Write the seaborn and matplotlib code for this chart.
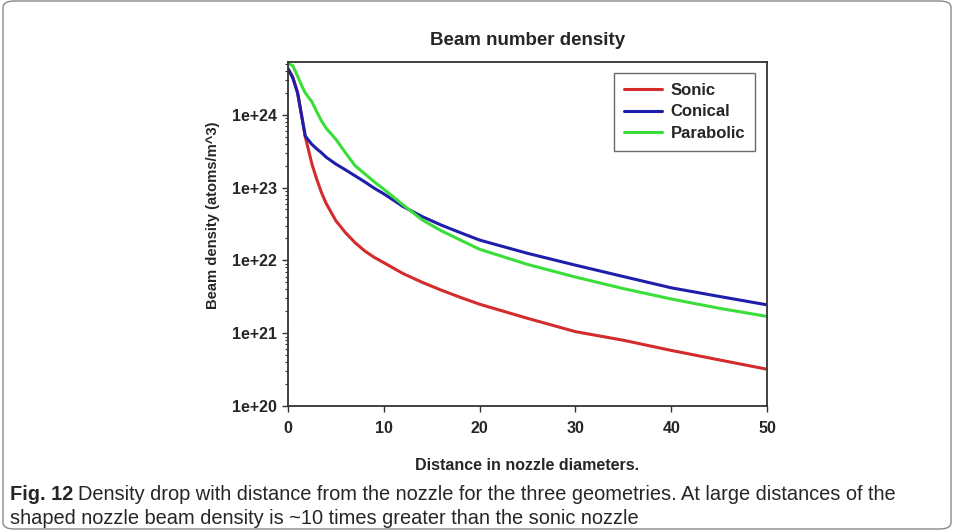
import matplotlib
matplotlib.use("Agg")
import matplotlib.pyplot as plt
import seaborn as sns
import pandas as pd
import numpy as np
from matplotlib.patches import FancyBboxPatch
from matplotlib.ticker import LogLocator, NullFormatter

distance = [0, 0.5, 1, 1.5, 1.8, 2.5, 3, 3.5, 4, 5, 6, 7, 8, 9, 10, 12, 14, 16, 18, 20, 25, 30, 35, 40, 45, 50]
sonic = [4.3e24, 3.3e24, 2.0e24, 8.5e23, 5.0e23, 2.1e23, 1.3e23, 8.5e22, 6.0e22, 3.5e22, 2.4e22, 1.75e22,
         1.35e22, 1.1e22, 9.3e21, 6.6e21, 5e21, 3.9e21, 3.1e21, 2.5e21, 1.6e21, 1.05e21, 8e20, 5.8e20,
         4.3e20, 3.2e20]
conical = [4.3e24, 3.2e24, 2.0e24, 8.5e23, 5.1e23, 3.9e23, 3.4e23, 3.0e23, 2.6e23, 2.1e23, 1.75e23, 1.45e23,
           1.2e23, 9.8e22, 8.2e22, 5.5e22, 4.0e22, 3.05e22, 2.4e22, 1.9e22, 1.25e22, 8.6e21, 6e21, 4.2e21,
           3.2e21, 2.45e21]
parabolic = [5.1e24, 4.7e24, 3.4e24, 2.4e24, 2.0e24, 1.5e24, 1.1e24, 8.2e23, 6.5e23, 4.6e23, 3.0e23, 2.0e23,
             1.55e23, 1.2e23, 9.5e22, 5.8e22, 3.6e22, 2.55e22, 1.9e22, 1.42e22, 8.8e21, 5.9e21, 4.1e21,
             2.95e21, 2.2e21, 1.7e21]
series_names = ["Sonic", "Conical", "Parabolic"]
colors = {"Sonic": "#d42c2c", "Conical": "#1e1eaa", "Parabolic": "#3ade3a"}

x_ticks = [0, 10, 20, 30, 40, 50]
y_ticks = [1e20, 1e21, 1e22, 1e23, 1e24]
y_tick_labels = ["1e+20", "1e+21", "1e+22", "1e+23", "1e+24"]

df = pd.concat([
    pd.DataFrame({"x": distance, "y": vals, "series": name})
    for name, vals in zip(series_names, [sonic, conical, parabolic])
])

sns.set_style("ticks")
plt.rcParams['font.family'] = ['Liberation Sans', 'DejaVu Sans']

fig = plt.figure(figsize=(9.56, 5.32), dpi=100)
ax = fig.add_axes([288/956, 1-406/532, (767-288)/956, (406-62)/532])

sns.lineplot(data=df, x="x", y="y", hue="series", hue_order=series_names,
             palette=colors, linewidth=2.2, ax=ax, legend=True)

ax.set_yscale("log")
ax.set_xlim(0, 50)
ax.set_ylim(1e20, 5.3e24)
ax.set_xticks(x_ticks)
ax.set_xticklabels([str(t) for t in x_ticks], fontweight="bold", fontsize=11.5)
ax.set_yticks(y_ticks)
ax.set_yticklabels(y_tick_labels, fontweight="bold", fontsize=11.5)
ax.yaxis.set_minor_locator(LogLocator(base=10, subs=np.arange(2, 10)))
ax.yaxis.set_minor_formatter(NullFormatter())
ax.tick_params(axis="x", which="major", direction="out", length=4, width=1, color="#333333", pad=7)
ax.tick_params(axis="y", which="major", direction="out", length=4, width=1, color="#333333", pad=4)
ax.tick_params(axis="y", which="minor", direction="out", length=2, width=0.8, color="#333333")
for sp in ax.spines.values():
    sp.set_visible(True)
    sp.set_color("#333333")
    sp.set_linewidth(1.3)

ax.set_xlabel("Distance in nozzle diameters.", fontweight="bold", fontsize=11.5, labelpad=16)
ax.set_ylabel("Beam density (atoms/m^3)", fontweight="bold", fontsize=10.6)
ax.yaxis.set_label_coords(-0.143, 0.555)
ax.set_title("Beam number density", fontweight="bold", fontsize=13.5, pad=12)

leg = ax.legend(loc="upper right", bbox_to_anchor=(0.975, 0.968), frameon=True, fancybox=False,
                prop={"weight": "bold", "size": 12}, handlelength=2.3, borderpad=0.6,
                labelspacing=0.38, handletextpad=0.5, borderaxespad=0)
leg.get_frame().set_edgecolor("#444444")
leg.get_frame().set_linewidth(1.0)
for line in leg.get_lines():
    line.set_linewidth(2.2)

# outer frame
frame = FancyBboxPatch((3/956, 3/532), 1 - 8/956, 1 - 4/532,
                       boxstyle="round,pad=0,rounding_size=0.012",
                       transform=fig.transFigure, fill=False, edgecolor="#888888", linewidth=1.0)
fig.patches.append(frame)

cap_font = ['Liberation Sans', 'DejaVu Sans']
t1 = fig.text(10/956, 1-495/532, "Fig. 12", fontweight="bold", fontsize=14.4, family=cap_font,
              va="center", ha="left")
fig.canvas.draw()
bb = t1.get_window_extent()
x2 = (bb.x1 + 5) / fig.bbox.width
fig.text(x2, 1-495/532,
         "Density drop with distance from the nozzle for the three geometries. At large distances of the",
         fontsize=14.4, family=cap_font, va="center", ha="left")
fig.text(10/956, 1-518/532,
         "shaped nozzle beam density is ~10 times greater than the sonic nozzle",
         fontsize=14.4, family=cap_font, va="center", ha="left")

fig.savefig("out.png", dpi=100)
